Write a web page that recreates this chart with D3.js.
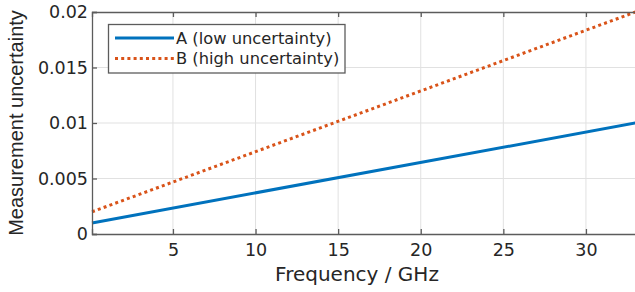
<!DOCTYPE html>
<html><head><meta charset="utf-8">
<script src="https://cdn.jsdelivr.net/npm/d3@7"></script>
<style>body{margin:0;background:#fff}svg{display:block}</style>
</head><body>
<svg id="c" width="635" height="292"></svg>
<script>
const freq = [0.1, 33];
const seriesA = [0.001, 0.01];
const seriesB = [0.002, 0.02];
const seriesNames = ["A (low uncertainty)", "B (high uncertainty)"];
const xTicks = [5, 10, 15, 20, 25, 30];
const yTicks = [0, 0.005, 0.01, 0.015, 0.02];
const yTickLabels = ["0", "0.005", "0.01", "0.015", "0.02"];

const W = 635, H = 292;
const m = {l: 92, t: 12, r: 635.5, b: 234};
const svg = d3.select("#c");
const x = d3.scaleLinear().domain([0.1, 33]).range([m.l, m.r]);
const y = d3.scaleLinear().domain([0, 0.02]).range([m.b, m.t]);
const axisCol = "#5c5c5c", txtCol = "#262626", gridCol = "#e1e1e1";
const font = "DejaVu Sans, Verdana, sans-serif";

// grid
svg.append("g").selectAll("line").data(xTicks).join("line")
  .attr("x1", d => x(d)).attr("x2", d => x(d)).attr("y1", m.t).attr("y2", m.b)
  .attr("stroke", gridCol).attr("stroke-width", 1);
svg.append("g").selectAll("line").data(yTicks.slice(1, -1)).join("line")
  .attr("x1", m.l).attr("x2", m.r).attr("y1", d => y(d)).attr("y2", d => y(d))
  .attr("stroke", gridCol).attr("stroke-width", 1);

// lines
const line = d3.line().x((d, i) => x(freq[i])).y(d => y(d));
svg.append("path").datum(seriesA).attr("d", line).attr("fill", "none")
  .attr("stroke", "#0072BD").attr("stroke-width", 3);
svg.append("path").datum(seriesB).attr("d", line).attr("fill", "none")
  .attr("stroke", "#D95319").attr("stroke-width", 3).attr("stroke-dasharray", "3 3.2");

// axes (inward ticks)
const xb = d3.axisBottom(x).tickValues(xTicks).tickSize(-5).tickPadding(10).tickFormat(d3.format("d"));
const gx = svg.append("g").attr("transform", `translate(0,${m.b})`).call(xb);
const xt = d3.axisTop(x).tickValues(xTicks).tickSize(-5).tickFormat("");
const gxt = svg.append("g").attr("transform", `translate(0,${m.t})`).call(xt);
const yl = d3.axisLeft(y).tickValues(yTicks).tickSize(-5).tickPadding(4).tickFormat((d, i) => yTickLabels[i]);
const gy = svg.append("g").attr("transform", `translate(${m.l},0)`).call(yl);
[gx, gxt, gy].forEach(g => {
  g.select(".domain").attr("stroke", axisCol).attr("stroke-width", 1.3);
  g.selectAll(".tick line").attr("stroke", axisCol).attr("stroke-width", 1.3);
  g.selectAll("text").attr("fill", txtCol).style("font-family", font).style("font-size", "17.5px");
});
gx.selectAll("text").attr("dy", "0.71em");

// axis labels
svg.append("text").attr("x", 357).attr("y", 281).attr("text-anchor", "middle")
  .attr("fill", txtCol).style("font-family", font).style("font-size", "20px")
  .text("Frequency / GHz");
svg.append("text").attr("transform", `translate(23,${(m.t + m.b) / 2}) rotate(-90)`)
  .attr("text-anchor", "middle").attr("fill", txtCol)
  .style("font-family", "Liberation Sans, Arial, sans-serif").style("font-size", "20px")
  .text("Measurement uncertainty");

// legend
const lg = svg.append("g");
lg.append("rect").attr("x", 108.5).attr("y", 24.5).attr("width", 236.5).attr("height", 48.5)
  .attr("fill", "#fff").attr("stroke", axisCol).attr("stroke-width", 1.3);
const legY = [38, 58.5];
const cols = ["#0072BD", "#D95319"];
seriesNames.forEach((n, i) => {
  lg.append("line").attr("x1", 115).attr("x2", 174).attr("y1", legY[i]).attr("y2", legY[i])
    .attr("stroke", cols[i]).attr("stroke-width", 3)
    .attr("stroke-dasharray", i === 1 ? "3 3.2" : null);
  lg.append("text").attr("x", 176).attr("y", legY[i]).attr("dy", "0.36em")
    .attr("fill", txtCol).style("font-family", font).style("font-size", "16.3px").text(n);
});
</script>
</body></html>
